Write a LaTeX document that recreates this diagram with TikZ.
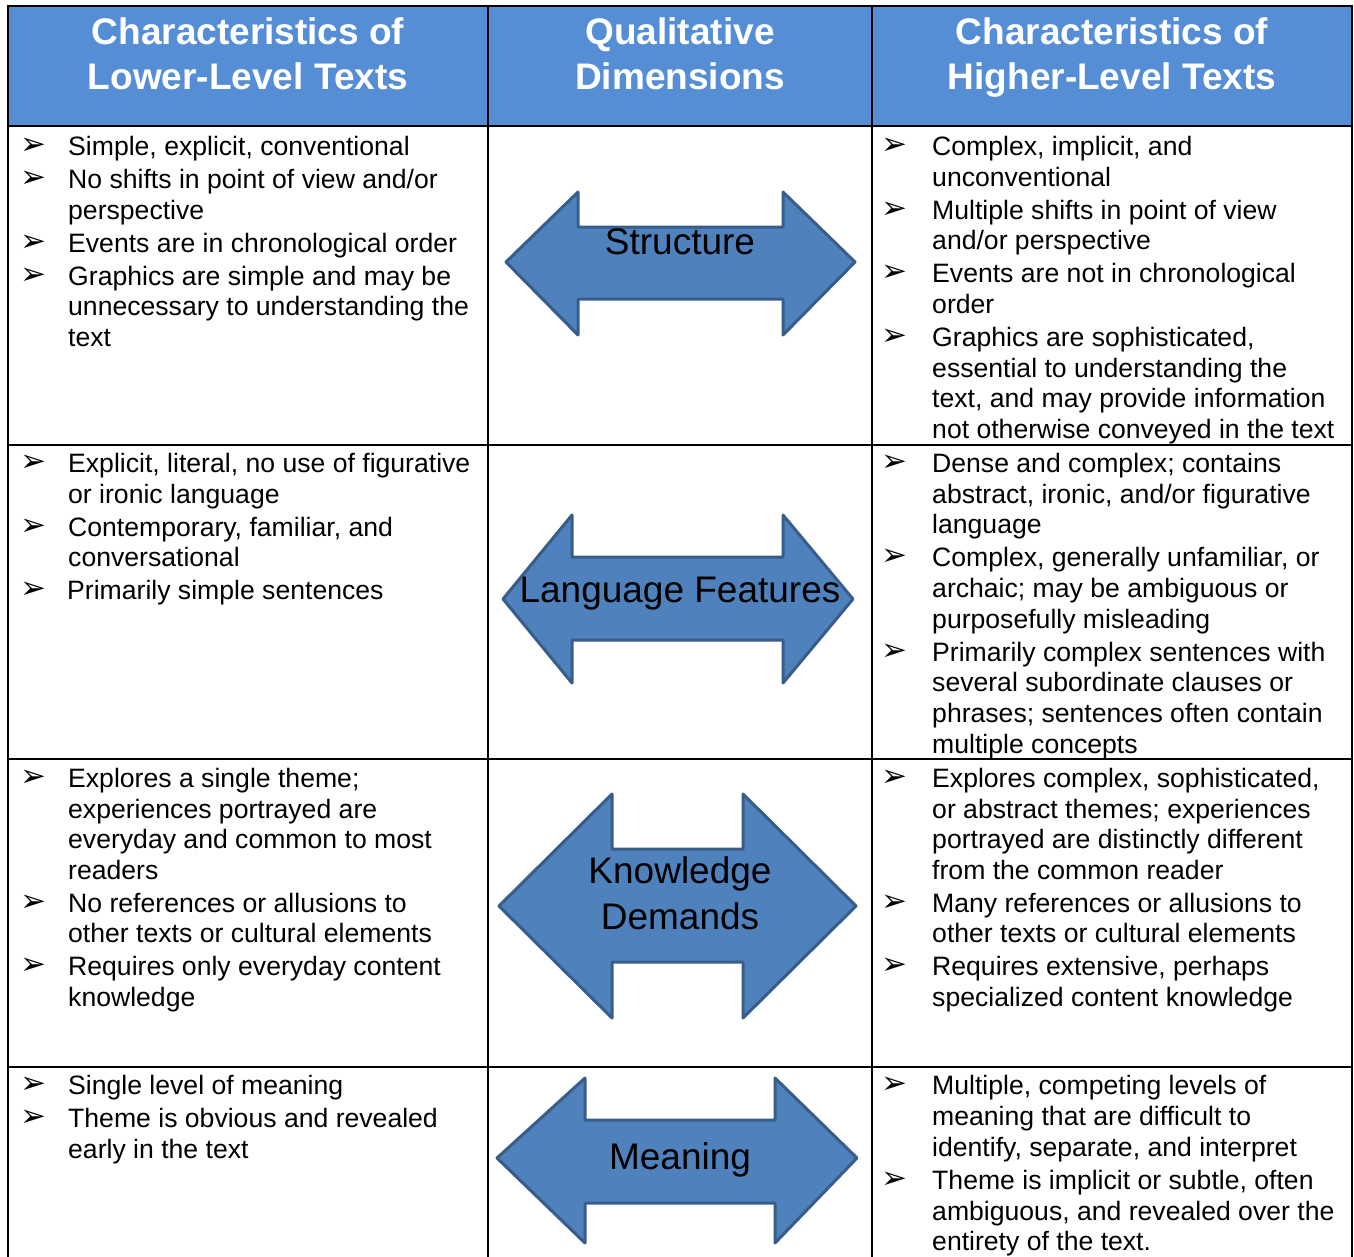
\documentclass[tikz,border=0pt]{standalone}
\usepackage{fontspec}
\setmainfont{Liberation Sans}
\newfontfamily\symfont{DejaVu Sans}
\definecolor{hdrblue}{RGB}{85,142,213}
\definecolor{arrfill}{RGB}{79,129,189}
\definecolor{arrline}{RGB}{56,93,138}
\tikzset{
 bodytxt/.style={anchor=base west, inner sep=0pt, font=\fontsize{26.6}{30.6}\selectfont},
 bulmark/.style={anchor=center, inner sep=0pt, font=\symfont\fontsize{31}{31}\selectfont},
 hdrtxt/.style={anchor=base, inner sep=0pt, text=white, font=\bfseries\fontsize{37}{45}\selectfont},
 arrtxt/.style={anchor=base, inner sep=0pt, font=\fontsize{37}{45}\selectfont},
 dblarrow/.style={fill=arrfill, draw=arrline, line width=3pt, line join=round},
 gridline/.style={line width=2.7pt, line cap=rect}
}
\newcommand\mkline[4]{\node[bodytxt] (#1) at (#2,#3+9) {#4};}
\newcommand\mkbulL[2]{\node[bulmark] (#1) at (33,#2) {➢};}
\newcommand\mkbulR[2]{\node[bulmark] (#1) at (894.5,#2) {➢};}
\begin{document}
\begin{tikzpicture}[x=1pt,y=-1pt]
\useasboundingbox (0,0) rectangle (1354,1256);
\fill[white] (0,0) rectangle (1354,1256);
% header
\fill[hdrblue] (8,6) rectangle (1352,126);
\node[hdrtxt] (h1a) at (248,44) {Characteristics of};
\node[hdrtxt] (h1b) at (248,89) {Lower-Level Texts};
\node[hdrtxt] (h2a) at (680,44) {Qualitative};
\node[hdrtxt] (h2b) at (680,89) {Dimensions};
\node[hdrtxt] (h3a) at (1112,44) {Characteristics of};
\node[hdrtxt] (h3b) at (1112,89) {Higher-Level Texts};
% grid
\draw[gridline] (8,6) -- (1352,6);
\draw[gridline] (8,126) -- (1352,126);
\draw[gridline] (8,445) -- (1352,445);
\draw[gridline] (8,759) -- (1352,759);
\draw[gridline] (8,1067) -- (1352,1067);
\draw[gridline] (8,6) -- (8,1258);
\draw[gridline] (488,6) -- (488,1258);
\draw[gridline] (872,6) -- (872,1258);
\draw[gridline] (1352,6) -- (1352,1258);
% arrows
\draw[dblarrow] (506,262) -- (578,192) -- (578,227) -- (783,227) -- (783,192) -- (855,262) -- (783,335) -- (783,299) -- (578,299) -- (578,335) -- cycle;
\node[arrtxt] (aS) at (680,254) {Structure};
\draw[dblarrow] (503,599) -- (572,515) -- (572,557) -- (783,557) -- (783,515) -- (853,599) -- (783,683) -- (783,640) -- (572,640) -- (572,683) -- cycle;
\node[arrtxt] (aL) at (680,602) {Language Features};
\draw[dblarrow] (499,906) -- (612,794) -- (612,849) -- (743,849) -- (743,794) -- (856,906) -- (743,1018) -- (743,962) -- (612,962) -- (612,1018) -- cycle;
\node[arrtxt] (aK1) at (680,883) {Knowledge};
\node[arrtxt] (aK2) at (680,929) {Demands};
\draw[dblarrow] (497,1158) -- (585,1078) -- (585,1120) -- (775,1120) -- (775,1078) -- (857,1158) -- (775,1243) -- (775,1203) -- (585,1203) -- (585,1243) -- cycle;
\node[arrtxt] (aM) at (680,1169) {Meaning};
% row 1 left
\mkbulL{b1a}{146}\mkline{l1a}{68}{146}{Simple, explicit, conventional}
\mkbulL{b1b}{179}\mkline{l1b}{68}{179}{No shifts in point of view and/or}
\mkline{l1c}{68}{210}{perspective}
\mkbulL{b1d}{243}\mkline{l1d}{68}{243}{Events are in chronological order}
\mkbulL{b1e}{276}\mkline{l1e}{68}{276}{Graphics are simple and may be}
\mkline{l1f}{68}{306}{unnecessary to understanding the}
\mkline{l1g}{68}{337}{text}
% row 1 right
\mkbulR{c1a}{146}\mkline{r1a}{932}{146}{Complex, implicit, and}
\mkline{r1b}{932}{177}{unconventional}
\mkbulR{c1c}{210}\mkline{r1c}{932}{210}{Multiple shifts in point of view}
\mkline{r1d}{932}{240}{and/or perspective}
\mkbulR{c1e}{273}\mkline{r1e}{932}{273}{Events are not in chronological}
\mkline{r1f}{932}{304}{order}
\mkbulR{c1g}{337}\mkline{r1g}{932}{337}{Graphics are sophisticated,}
\mkline{r1h}{932}{368}{essential to understanding the}
\mkline{r1i}{932}{398}{text, and may provide information}
\mkline{r1j}{932}{429}{not otherwise conveyed in the text}
% row 2 left
\mkbulL{b2a}{463}\mkline{l2a}{68}{463}{Explicit, literal, no use of figurative}
\mkline{l2b}{68}{494}{or ironic language}
\mkbulL{b2c}{527}\mkline{l2c}{68}{527}{Contemporary, familiar, and}
\mkline{l2d}{68}{557}{conversational}
\mkbulL{b2e}{590}\mkline{l2e}{67}{590}{Primarily simple sentences}
% row 2 right
\mkbulR{c2a}{463}\mkline{r2a}{932}{463}{Dense and complex; contains}
\mkline{r2b}{932}{494}{abstract, ironic, and/or figurative}
\mkline{r2c}{932}{524}{language}
\mkbulR{c2d}{557}\mkline{r2d}{932}{557}{Complex, generally unfamiliar, or}
\mkline{r2e}{932}{588}{archaic; may be ambiguous or}
\mkline{r2f}{932}{619}{purposefully misleading}
\mkbulR{c2g}{652}\mkline{r2g}{932}{652}{Primarily complex sentences with}
\mkline{r2h}{932}{682}{several subordinate clauses or}
\mkline{r2i}{932}{713}{phrases; sentences often contain}
\mkline{r2j}{932}{744}{multiple concepts}
% row 3 left
\mkbulL{b3a}{778}\mkline{l3a}{68}{778}{Explores a single theme;}
\mkline{l3b}{68}{809}{experiences portrayed are}
\mkline{l3c}{68}{839}{everyday and common to most}
\mkline{l3d}{68}{870}{readers}
\mkbulL{b3e}{903}\mkline{l3e}{68}{903}{No references or allusions to}
\mkline{l3f}{68}{933}{other texts or cultural elements}
\mkbulL{b3g}{966}\mkline{l3g}{68}{966}{Requires only everyday content}
\mkline{l3h}{68}{997}{knowledge}
% row 3 right
\mkbulR{c3a}{778}\mkline{r3a}{932}{778}{Explores complex, sophisticated,}
\mkline{r3b}{932}{809}{or abstract themes; experiences}
\mkline{r3c}{932}{839}{portrayed are distinctly different}
\mkline{r3d}{932}{870}{from the common reader}
\mkbulR{c3e}{903}\mkline{r3e}{932}{903}{Many references or allusions to}
\mkline{r3f}{932}{933}{other texts or cultural elements}
\mkbulR{c3g}{966}\mkline{r3g}{932}{966}{Requires extensive, perhaps}
\mkline{r3h}{932}{997}{specialized content knowledge}
% row 4 left
\mkbulL{b4a}{1085}\mkline{l4a}{68}{1085}{Single level of meaning}
\mkbulL{b4b}{1118}\mkline{l4b}{68}{1118}{Theme is obvious and revealed}
\mkline{l4c}{68}{1149}{early in the text}
% row 4 right
\mkbulR{c4a}{1085}\mkline{r4a}{932}{1085}{Multiple, competing levels of}
\mkline{r4b}{932}{1116}{meaning that are difficult to}
\mkline{r4c}{932}{1147}{identify, separate, and interpret}
\mkbulR{c4d}{1180}\mkline{r4d}{932}{1180}{Theme is implicit or subtle, often}
\mkline{r4e}{932}{1211}{ambiguous, and revealed over the}
\mkline{r4f}{932}{1241}{entirety of the text.}
\end{tikzpicture}
\end{document}
